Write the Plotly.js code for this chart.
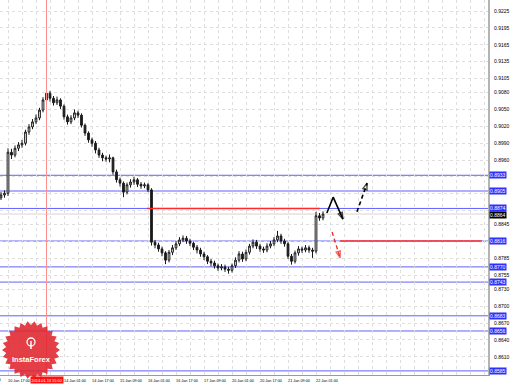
<!DOCTYPE html>
<html><head><meta charset="utf-8">
<script src="https://cdn.plot.ly/plotly-3.0.1.min.js"></script>
<style>html,body{margin:0;padding:0;background:#fff;overflow:hidden}#c{width:510px;height:385px}</style>
</head><body><div id="c"></div>
<script>
// ---- data (H2 bars) ----
const opens = [0.8893,0.8898,0.8901,0.8974,0.8969,0.8981,0.8987,0.8990,0.9010,0.9019,
0.9028,0.9035,0.9049,0.9067,0.9079,0.9070,0.9062,0.9067,0.9056,0.9037,
0.9028,0.9035,0.9044,0.9040,0.9022,0.9008,0.8996,0.8990,0.8978,0.8969,
0.8964,0.8962,0.8964,0.8939,0.8925,0.8919,0.8903,0.8916,0.8921,0.8925,
0.8917,0.8914,0.8916,0.8907,0.8814,0.8809,0.8802,0.8795,0.8782,0.8796,
0.8804,0.8811,0.8818,0.8821,0.8816,0.8812,0.8805,0.8800,0.8793,0.8788,
0.8780,0.8777,0.8772,0.8768,0.8770,0.8766,0.8764,0.8772,0.8782,0.8793,
0.8784,0.8796,0.8807,0.8814,0.8807,0.8802,0.8800,0.8807,0.8811,0.8818,
0.8825,0.8816,0.8811,0.8789,0.8780,0.8795,0.8802,0.8800,0.8804,0.8800,
0.8798,0.8861,0.8857];
const highs = [0.8903,0.8906,0.8981,0.8980,0.8986,0.8992,0.8996,0.9014,0.9024,0.9033,
0.9041,0.9053,0.9072,0.9088,0.9083,0.9074,0.9073,0.9070,0.9059,0.9041,
0.9040,0.9050,0.9048,0.9043,0.9025,0.9011,0.9000,0.8994,0.8982,0.8973,
0.8968,0.8970,0.8966,0.8943,0.8929,0.8922,0.8920,0.8926,0.8930,0.8928,
0.8921,0.8920,0.8919,0.8910,0.8818,0.8813,0.8806,0.8798,0.8800,0.8809,
0.8816,0.8823,0.8826,0.8825,0.8820,0.8815,0.8809,0.8804,0.8797,0.8791,
0.8784,0.8781,0.8776,0.8775,0.8774,0.8770,0.8776,0.8787,0.8798,0.8797,
0.8801,0.8811,0.8819,0.8818,0.8811,0.8806,0.8812,0.8816,0.8823,0.8834,
0.8829,0.8820,0.8814,0.8793,0.8799,0.8807,0.8806,0.8809,0.8808,0.8804,
0.8868,0.8866,0.8869];
const lows = [0.8889,0.8893,0.8896,0.8962,0.8965,0.8976,0.8982,0.8986,0.9005,0.9015,
0.9024,0.9031,0.9045,0.9062,0.9064,0.9057,0.9058,0.9051,0.9032,0.9023,
0.9024,0.9031,0.9035,0.9018,0.9003,0.8991,0.8984,0.8972,0.8964,0.8958,
0.8957,0.8956,0.8934,0.8920,0.8913,0.8894,0.8899,0.8911,0.8916,0.8912,
0.8909,0.8910,0.8903,0.8808,0.8803,0.8797,0.8789,0.8775,0.8778,0.8791,
0.8800,0.8807,0.8814,0.8811,0.8807,0.8800,0.8794,0.8788,0.8782,0.8775,
0.8771,0.8767,0.8763,0.8764,0.8761,0.8758,0.8760,0.8768,0.8778,0.8779,
0.8780,0.8792,0.8803,0.8802,0.8797,0.8795,0.8796,0.8803,0.8807,0.8814,
0.8811,0.8806,0.8784,0.8774,0.8776,0.8790,0.8795,0.8796,0.8795,0.8786,
0.8794,0.8852,0.8853];
const closes = [0.8898,0.8901,0.8974,0.8969,0.8981,0.8987,0.8990,0.9010,0.9019,0.9028,
0.9035,0.9049,0.9067,0.9079,0.9070,0.9062,0.9067,0.9056,0.9037,0.9028,
0.9035,0.9044,0.9040,0.9022,0.9008,0.8996,0.8990,0.8978,0.8969,0.8964,
0.8962,0.8964,0.8939,0.8925,0.8919,0.8903,0.8916,0.8921,0.8925,0.8917,
0.8914,0.8916,0.8907,0.8814,0.8809,0.8802,0.8795,0.8782,0.8796,0.8804,
0.8811,0.8818,0.8821,0.8816,0.8812,0.8805,0.8800,0.8793,0.8788,0.8780,
0.8777,0.8772,0.8768,0.8770,0.8766,0.8764,0.8772,0.8782,0.8793,0.8784,
0.8796,0.8807,0.8814,0.8807,0.8802,0.8800,0.8807,0.8811,0.8818,0.8825,
0.8816,0.8811,0.8789,0.8780,0.8795,0.8802,0.8800,0.8804,0.8800,0.8798,
0.8861,0.8857,0.8864];

// time-axis labels (every 8 bars); grid every 4 bars
const timeLabels = ["10 Jan 17:00","","14 Jan 01:00","14 Jan 17:00","15 Jan 09:00","16 Jan 01:00",
"16 Jan 17:00","17 Jan 09:00","20 Jan 01:00","20 Jan 17:00","21 Jan 09:00","22 Jan 01:00"];
const crossBar = 13, crossLabel = "2014.01.13 15:00";

// price scale labels (empty text where a level label covers it)
const priceTicks = [0.9225,0.9195,0.9165,0.9135,0.9105,0.9080,0.9050,0.9020,0.8990,0.8960,
0.8930,0.8900,0.8870,0.8845,0.8815,0.8785,0.8755,0.8730,0.8700,0.8670,0.8640,0.8610];
const priceTickText = ["0.9225","0.9195","0.9165","0.9135","0.9105","0.9080","0.9050","0.9020","0.8990","0.8960",
"","","","0.8845","","0.8785","0.8755","0.8730","0.8700","0.8670","0.8640","0.8610"];

// horizontal levels
const blueLevels = [0.8933,0.8905,0.8874,0.8816,0.8770,0.8743,0.8683,0.8656,0.8585];
const bidPrice = 0.8864;
const redLevelPrice = [0.8874,0.8816];
const redLevelFrom = [41.7,96.9];
const redLevelTo = [91.1,137.4];

// forecast arrows
const fcSolidX = [93.1,94.9,97.7], fcSolidY = [0.8866,0.8894,0.8855];
const fcUpX = [101.7,104.6], fcUpY = [0.8868,0.8919];
const fcDownX = [94.6,96.9], fcDownY = [0.8832,0.8786];

// ---- build ----
const idx = closes.map((_, i) => i);
const gridVals = [], gridText = [];
for (let k = 0; 2 + 4 * k <= 139; k++) {
  gridVals.push(2 + 4 * k);
  gridText.push(k % 2 === 0 && k / 2 < timeLabels.length ? timeLabels[k / 2] : "");
}
const F = "Liberation Sans, Arial, sans-serif";

const traces = [
  {type:'candlestick', x: idx, open: opens, high: highs, low: lows, close: closes,
   increasing:{line:{color:'#1a1a1a', width:1}, fillcolor:'#ffffff'},
   decreasing:{line:{color:'#1a1a1a', width:1}, fillcolor:'#1a1a1a'},
   whiskerwidth:0, hoverinfo:'skip', showlegend:false},
  {type:'scatter', mode:'lines+markers', x: fcSolidX, y: fcSolidY,
   line:{color:'#000', width:1.6},
   marker:{symbol:'arrow-open', angleref:'previous', size: fcSolidX.map((_, i) => i === fcSolidX.length - 1 ? 7 : 0), color:'#000', line:{color:'#000', width:1.4}},
   showlegend:false, hoverinfo:'skip'},
  {type:'scatter', mode:'lines+markers', x: fcUpX, y: fcUpY,
   line:{color:'#000', width:1.6, dash:'4px,3px'},
   marker:{symbol:'arrow-open', angleref:'previous', size: fcUpX.map((_, i) => i === fcUpX.length - 1 ? 7 : 0), color:'#000', line:{color:'#000', width:1.4}},
   showlegend:false, hoverinfo:'skip'},
  {type:'scatter', mode:'lines+markers', x: fcDownX, y: fcDownY,
   line:{color:'#ee2222', width:1.3, dash:'4px,3px'},
   marker:{symbol:'arrow-open', angleref:'previous', size: fcDownX.map((_, i) => i === fcDownX.length - 1 ? 7 : 0), color:'#ee2222', line:{color:'#ee2222', width:1.3}},
   showlegend:false, hoverinfo:'skip'}
];

const shapes = [];
blueLevels.forEach(p => shapes.push({type:'line', xref:'paper', x0:0, x1:1, yref:'y', y0:p, y1:p, line:{color:'#6060ff', width:1}, layer:'below'}));
shapes.push({type:'line', xref:'paper', x0:0, x1:1, yref:'y', y0:bidPrice, y1:bidPrice, line:{color:'#d4d4d4', width:1}, layer:'below'});
redLevelPrice.forEach((p, i) => shapes.push({type:'line', xref:'x', x0:redLevelFrom[i], x1:redLevelTo[i], yref:'y', y0:p, y1:p, line:{color:'#ff2a2a', width:1.4}}));
shapes.push({type:'line', xref:'x', x0:crossBar, x1:crossBar, yref:'paper', y0:0, y1:1, line:{color:'#ff9090', width:1}});

// InstaForex seal
function star(n, r1, r2) {
  let d = '';
  for (let k = 0; k < 2 * n; k++) {
    const r = k % 2 ? r2 : r1, a = Math.PI * k / n;
    d += (k ? 'L' : 'M') + (r * Math.cos(a)).toFixed(2) + ',' + (r * Math.sin(a)).toFixed(2);
  }
  return d + 'Z';
}
const sealX = 31 / 488, sealY = (375 - 350) / 375;
shapes.push({type:'path', path: star(26, 29, 25), xref:'paper', yref:'paper', xsizemode:'pixel', ysizemode:'pixel',
  xanchor: sealX, yanchor: sealY, fillcolor:'rgba(224,36,44,0.88)', line:{width:0}});
shapes.push({type:'circle', xref:'paper', yref:'paper', xsizemode:'pixel', ysizemode:'pixel',
  xanchor: sealX, yanchor: sealY, x0:-4, x1:4, y0:4, y1:12, fillcolor:'rgba(0,0,0,0)', line:{color:'#fff', width:1.3}});
shapes.push({type:'line', xref:'paper', yref:'paper', xsizemode:'pixel', ysizemode:'pixel',
  xanchor: sealX, yanchor: sealY, x0:0, x1:0, y0:1, y1:9, line:{color:'#fff', width:1.5}});

const annotations = [];
blueLevels.forEach(p => annotations.push({xref:'paper', x:1, xanchor:'left', xshift:1, yref:'y', y:p, yanchor:'middle',
  text: p.toFixed(4), showarrow:false, bgcolor:'#2f2fff', font:{family:F, size:5, color:'#fff'}, borderpad:0}));
annotations.push({xref:'paper', x:1, xanchor:'left', xshift:1, yref:'y', y:bidPrice, yanchor:'middle', yshift:-0.5,
  text: bidPrice.toFixed(4), showarrow:false, bgcolor:'#000', font:{family:F, size:5, color:'#fff'}, borderpad:0});
annotations.push({xref:'x', x:crossBar, xanchor:'center', yref:'paper', y:0, yanchor:'top', yshift:-1,
  text: crossLabel, showarrow:false, bgcolor:'#ff1010', font:{family:F, size:3.9, color:'#fff'}, borderpad:0.5});
annotations.push({xref:'paper', x:3 / 488, xanchor:'right', yref:'paper', y:0, yanchor:'top', yshift:-1,
  text:'10 Jan 01:00', showarrow:false, font:{family:F, size:3.8, color:'#000'}});
annotations.push({xref:'paper', x:sealX, xanchor:'center', yref:'paper', y:sealY, yanchor:'middle', yshift:-9,
  text:'<b>InstaForex</b>', showarrow:false, font:{family:'Liberation Sans, Arial, sans-serif', size:7.5, color:'#fff'}});

const layout = {
  width:510, height:385,
  margin:{l:0, r:22, t:0, b:10, pad:0},
  paper_bgcolor:'#ffffff', plot_bgcolor:'#ffffff',
  showlegend:false,
  xaxis:{range:[-0.286, 139.14], tickmode:'array', tickvals: gridVals, ticktext: gridText, tickangle:0,
    showgrid:true, gridcolor:'#dedede', griddash:'dot', gridwidth:1, zeroline:false,
    showline:true, linecolor:'#9a9a9a', linewidth:1, ticks:'', ticklabelshift:11, ticklabelstandoff:1,
    tickfont:{family:F, size:3.8, color:'#000'}, rangeslider:{visible:false}, fixedrange:true},
  yaxis:{range:[0.85777, 0.92448], side:'right', tickmode:'array', tickvals: priceTicks,
    ticktext: priceTickText,
    showgrid:true, gridcolor:'#dedede', griddash:'dot', gridwidth:1, zeroline:false,
    showline:true, linecolor:'#b4b4b4', linewidth:2, ticks:'', ticklabelstandoff:3,
    tickfont:{family:F, size:5, color:'#000'}, fixedrange:true},
  shapes, annotations
};
Plotly.newPlot('c', traces, layout, {staticPlot:true, displayModeBar:false});
</script></body></html>
